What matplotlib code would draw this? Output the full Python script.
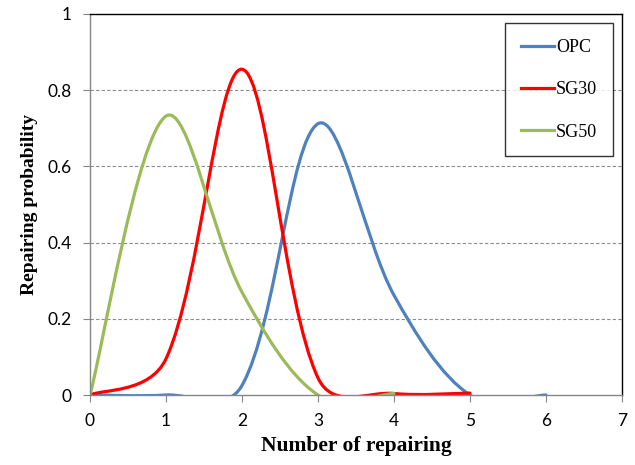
import matplotlib
matplotlib.use("Agg")
import matplotlib.pyplot as plt
from matplotlib.path import Path
from matplotlib.patches import PathPatch
from matplotlib.lines import Line2D
import numpy as np

# values at each whole number of repairing
opc_x = [0, 1, 2, 3, 4, 5, 6]
opc_y = [0.0, 0.0, 0.025, 0.712, 0.262, 0.0, 0.0]
sg30_x = [0, 1, 2, 3, 4, 5]
sg30_y = [0.0, 0.095, 0.855, 0.045, 0.004, 0.005]
sg50_x = [0, 1, 2, 3, 4]
sg50_y = [0.0, 0.732, 0.27, 0.0, 0.004]

names = ["OPC", "SG30", "SG50"]
colors = ["#4F81BD", "#FF0000", "#9BBB59"]


def smooth_path(ax, xs, ys, tension=1.0 / 3, mix=0.65):
    # Excel-like smoothed line: cubic bezier, tangents partly scaled by the
    # on-screen lengths of the neighbouring segments
    pts = np.column_stack([xs, ys]).astype(float)
    scr = ax.transData.transform(pts)
    n = len(pts)
    seg = np.hypot(*np.diff(scr, axis=0).T)
    left = pts.copy()
    right = pts.copy()
    right[0] = pts[0] + (pts[1] - pts[0]) * tension / 2
    left[-1] = pts[-1] - (pts[-1] - pts[-2]) * tension / 2
    for i in range(1, n - 1):
        t = pts[i + 1] - pts[i - 1]
        tot = seg[i - 1] + seg[i]
        wl = mix * seg[i - 1] / tot + (1 - mix) / 2
        wr = mix * seg[i] / tot + (1 - mix) / 2
        left[i] = pts[i] - t * tension * wl
        right[i] = pts[i] + t * tension * wr
    verts = [pts[0]]
    codes = [Path.MOVETO]
    for i in range(n - 1):
        verts += [right[i], left[i + 1], pts[i + 1]]
        codes += [Path.CURVE4] * 3
    return Path(verts, codes)


fig = plt.figure(figsize=(6.35, 4.65), dpi=100)
ax = fig.add_axes([0.1417, 0.1505, 0.8378, 0.8194])
ax.set_xlim(0, 7)
ax.set_ylim(0, 1)

series = [(opc_x, opc_y), (sg30_x, sg30_y), (sg50_x, sg50_y)]
for (xs, ys), c in zip(series, colors):
    patch = PathPatch(smooth_path(ax, xs, ys), facecolor="none", edgecolor=c,
                      lw=2.3, capstyle="round", joinstyle="round")
    ax.add_patch(patch)

ax.set_xticks(range(8))
ax.set_yticks([0, 0.2, 0.4, 0.6, 0.8, 1.0])
ax.set_yticklabels(["0", "0.2", "0.4", "0.6", "0.8", "1"])

for y in [0.2, 0.4, 0.6, 0.8]:
    ax.axhline(y, color="#8c8c8c", lw=0.8, ls=(0, (3, 2)), zorder=0)

ax.spines["left"].set_color("#868686")
ax.spines["bottom"].set_color("#868686")
ax.spines["top"].set_color("black")
ax.spines["right"].set_color("black")
for s in ax.spines.values():
    s.set_linewidth(1.0)
ax.tick_params(axis="both", direction="out", length=5, color="#868686",
               labelsize=12.5)
ax.tick_params(axis="x", pad=8)
ax.tick_params(axis="y", pad=8)
for lab in ax.get_xticklabels() + ax.get_yticklabels():
    lab.set_fontfamily("Lato")

ax.set_xlabel("Number of repairing", fontfamily="Liberation Serif",
              fontweight="bold", fontsize=15.5, labelpad=5)
ax.set_ylabel("Repairing probability", fontfamily="Liberation Serif",
              fontweight="bold", fontsize=14, labelpad=7)

handles = [Line2D([], [], color=c, lw=2.3) for c in colors]
leg = ax.legend(handles, names, loc="upper right",
                bbox_to_anchor=(0.983, 0.976), borderaxespad=0,
                frameon=True, fancybox=False,
                edgecolor="black", handlelength=1.83, handletextpad=0.12,
                labelspacing=1.4, borderpad=0.88,
                prop={"family": "Liberation Serif", "size": 13})
leg.get_frame().set_linewidth(1.0)

fig.savefig("out.png", dpi=100)
